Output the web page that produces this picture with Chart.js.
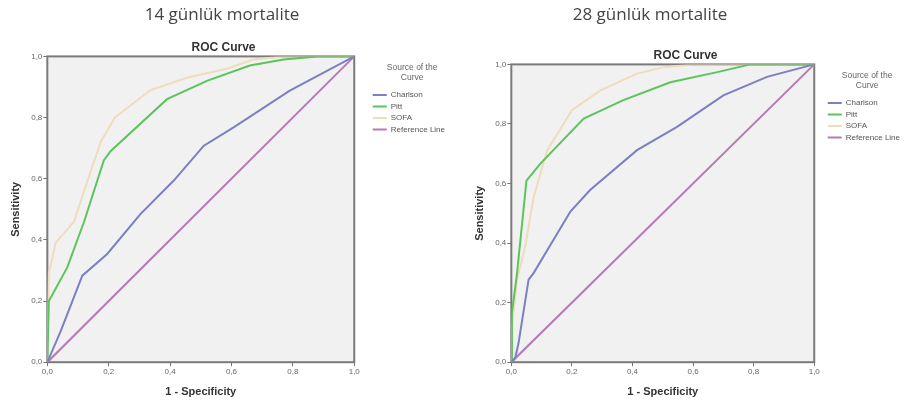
<!DOCTYPE html>
<html>
<head>
<meta charset="utf-8">
<script src="https://cdn.jsdelivr.net/npm/chart.js@4.4.1/dist/chart.umd.min.js"></script>
<style>
  html, body { margin: 0; background: #fff; overflow: hidden; width: 905px; height: 405px; }
  .panel { position: absolute; top: 0; height: 405px; }
  #left { left: 0; width: 478px; }
  #right { left: 460px; width: 480px; }
  .heading {
    position: absolute; top: 0; width: 300px; line-height: 27px;
    text-align: center; font-family: 'Open Sans', sans-serif; font-size: 17px; color: #444;
  }
</style>
</head>
<body>
<div class="panel" id="left"><canvas id="chart14"></canvas></div>
<div class="panel" id="right"><canvas id="chart28"></canvas></div>
<div class="heading" style="left:72px">14 günlük mortalite</div>
<div class="heading" style="left:500px">28 günlük mortalite</div>
<script>
// 14 günlük mortalite - ROC points [1-specificity, sensitivity]
const charlson14 = [[0,0],[0.043,0.10],[0.114,0.283],[0.195,0.354],[0.304,0.485],[0.412,0.594],[0.51,0.708],[0.607,0.768],[0.79,0.888],[1,1]];
const pitt14 = [[0,0],[0.005,0.2],[0.065,0.31],[0.12,0.46],[0.184,0.66],[0.206,0.69],[0.39,0.86],[0.52,0.92],[0.66,0.97],[0.77,0.99],[0.88,1],[1,1]];
const sofa14 = [[0,0],[0.005,0.29],[0.027,0.39],[0.087,0.46],[0.13,0.59],[0.174,0.72],[0.22,0.80],[0.336,0.89],[0.455,0.93],[0.586,0.96],[0.67,0.99],[0.77,1],[1,1]];

// 28 günlük mortalite
const charlson28 = [[0,0],[0.013,0.015],[0.024,0.065],[0.057,0.277],[0.074,0.30],[0.195,0.506],[0.26,0.578],[0.415,0.712],[0.547,0.79],[0.70,0.896],[0.844,0.958],[1,1]];
const pitt28 = [[0,0],[0.002,0.165],[0.019,0.30],[0.05,0.61],[0.096,0.667],[0.239,0.818],[0.37,0.88],[0.525,0.94],[0.68,0.974],[0.79,1],[1,1]];
const sofa28 = [[0,0],[0.003,0.13],[0.019,0.277],[0.046,0.39],[0.074,0.556],[0.118,0.71],[0.2,0.846],[0.294,0.913],[0.415,0.969],[0.5,0.99],[0.6,1],[1,1]];

const referenceLine = [[0,0],[1,1]];
const tickValues = [0, 0.2, 0.4, 0.6, 0.8, 1];

const colors = {
  charlson: '#7b7fc4',
  pitt: '#5cc45c',
  sofa: '#eedcbc',
  reference: '#b57cb5'
};

const toXY = pts => pts.map(p => ({x: p[0], y: p[1]}));

const plotBox = {
  id: 'plotBox',
  afterLayout(chart, args, opts) {
    // SPSS leaves a gap between plot frame and legend
    const lg = chart.legend;
    if (lg && opts.legendShift) {
      lg.left += opts.legendShift;
      lg.right += opts.legendShift;
    }
  },
  beforeDraw(chart) {
    const a = chart.chartArea;
    const ctx = chart.ctx;
    ctx.save();
    ctx.fillStyle = '#f1f1f1';
    ctx.fillRect(a.left, a.top, a.right - a.left, a.bottom - a.top);
    ctx.restore();
  },
  beforeDatasetsDraw(chart) {
    const a = chart.chartArea;
    const ctx = chart.ctx;
    ctx.save();
    ctx.strokeStyle = '#7a7a7a';
    ctx.lineWidth = 2;
    ctx.strokeRect(a.left, a.top, a.right - a.left, a.bottom - a.top);
    ctx.restore();
  }
};

function makeAxis(title, titlePad) {
  return {
    type: 'linear',
    min: 0,
    max: 1,
    afterBuildTicks(axis) {
      axis.ticks = tickValues.map(v => ({value: v}));
    },
    grid: { display: true, drawOnChartArea: false, drawTicks: true, tickLength: 4, color: '#777' },
    border: { display: false },
    ticks: {
      color: '#666',
      font: { family: 'Liberation Sans', size: 8 },
      padding: 1,
      maxRotation: 0,
      callback: v => v.toFixed(1).replace('.', ',')
    },
    title: {
      display: true,
      text: title,
      color: '#333',
      font: { family: 'Liberation Sans', size: 11, weight: 'bold' },
      padding: titlePad
    }
  };
}

function makeChart(id, charlson, pitt, sofa, pad) {
  const ds = (label, pts, color) => ({
    label: label,
    data: toXY(pts),
    borderColor: color,
    backgroundColor: color,
    borderWidth: 2,
    showLine: true,
    pointRadius: 0,
    tension: 0
  });
  return new Chart(document.getElementById(id), {
    type: 'scatter',
    data: {
      datasets: [
        ds('Charlson', charlson, colors.charlson),
        ds('Pitt', pitt, colors.pitt),
        ds('SOFA', sofa, colors.sofa),
        ds('Reference Line', referenceLine, colors.reference)
      ]
    },
    options: {
      responsive: true,
      maintainAspectRatio: false,
      animation: false,
      layout: { padding: { left: pad.left, right: pad.right, top: 0, bottom: pad.bottom } },
      scales: {
        x: makeAxis('1 - Specificity', { top: 8, bottom: 2 }),
        y: makeAxis('Sensitivity', { top: 2, bottom: 8 })
      },
      plugins: {
        plotBox: { legendShift: pad.legendShift },
        title: {
          display: true,
          text: 'ROC Curve',
          color: '#333',
          font: { family: 'Liberation Sans', size: 12, weight: 'bold' },
          padding: { top: pad.titleTop, bottom: 2 }
        },
        legend: {
          position: 'right',
          align: 'start',
          fullSize: false,
          title: {
            display: true,
            text: ['Source of the', 'Curve'],
            color: '#666',
            font: { family: 'Liberation Sans', size: 8.5 },
            padding: { top: 7, bottom: 14 }
          },
          labels: {
            usePointStyle: true,
            pointStyle: 'line',
            pointStyleWidth: 14,
            color: '#555',
            font: { family: 'Liberation Sans', size: 8 },
            padding: 3.5
          }
        },
        tooltip: { enabled: false }
      }
    },
    plugins: [plotBox]
  });
}

makeChart('chart14', charlson14, pitt14, sofa14,
  { left: 7, right: 38, bottom: 4, titleTop: 40, legendShift: 15 });
makeChart('chart28', charlson28, pitt28, sofa28,
  { left: 11, right: 40, bottom: 4, titleTop: 48, legendShift: 10 });
</script>
</body>
</html>
